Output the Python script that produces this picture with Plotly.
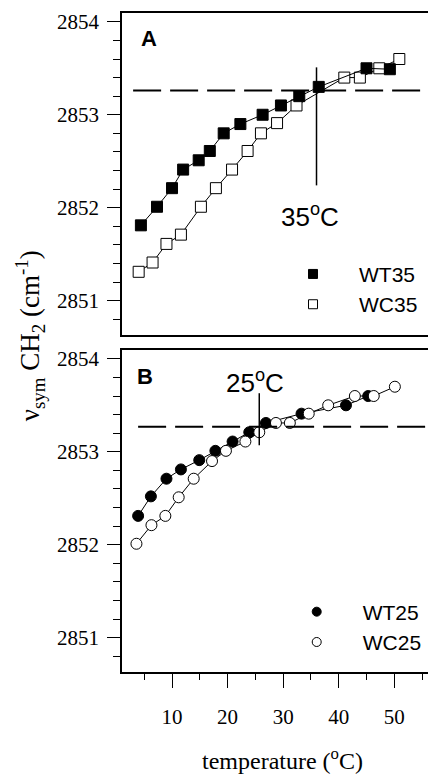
import plotly.graph_objects as go

# panel A (35 C transition)
wt35_temp = [4.4, 7.3, 10.0, 12.0, 14.8, 16.8, 19.3, 22.3, 26.3, 29.6, 32.9, 36.4, 45.0, 49.2]
wt35_freq = [2851.81, 2852.01, 2852.21, 2852.41, 2852.51, 2852.61, 2852.80, 2852.90, 2853.00,
             2853.10, 2853.20, 2853.30, 2853.50, 2853.49]
wc35_temp = [4.0, 6.5, 9.0, 11.6, 15.2, 17.9, 20.8, 23.6, 26.0, 28.9, 32.4, 41.0, 43.8, 47.3, 50.9]
wc35_freq = [2851.31, 2851.41, 2851.61, 2851.71, 2852.01, 2852.21, 2852.41, 2852.61, 2852.80,
             2852.91, 2853.10, 2853.40, 2853.40, 2853.50, 2853.60]

# panel B (25 C transition)
wt25_temp = [3.9, 6.2, 9.0, 11.6, 14.9, 17.8, 20.9, 23.9, 26.9, 33.3, 41.3, 45.3]
wt25_freq = [2852.31, 2852.52, 2852.71, 2852.81, 2852.91, 2853.01, 2853.11, 2853.21, 2853.31,
             2853.41, 2853.50, 2853.60]
wc25_temp = [3.6, 6.3, 8.8, 11.2, 13.9, 17.2, 19.7, 23.2, 25.7, 28.7, 31.2, 34.6, 38.1, 42.9, 46.3, 50.1]
wc25_freq = [2852.01, 2852.21, 2852.31, 2852.51, 2852.71, 2852.90, 2853.01, 2853.11, 2853.21,
             2853.31, 2853.31, 2853.41, 2853.50, 2853.60, 2853.60, 2853.70]

plateau_a = 2853.26
plateau_b = 2853.27
trans_a = [36.0, 2852.24, 2853.51]   # x, y0, y1 of marker line
trans_b = [25.7, 2853.07, 2853.63]
x_ticks = [10, 20, 30, 40, 50]
y_ticks = [2851, 2852, 2853, 2854]

serif = "Liberation Serif, Times New Roman, serif"
sans = "Liberation Sans, Arial, sans-serif"
X_RANGE = [1, 57.5]
Y_RANGE = [2850.63, 2854.095]

fig = go.Figure()


def add_panel(temp, freq, name, symbol, fill, xa, ya, legend):
    fig.add_scatter(x=temp, y=freq, mode='lines', xaxis=xa, yaxis=ya,
                    line=dict(color='black', width=1), showlegend=False, hoverinfo='skip')
    fig.add_scatter(x=temp, y=freq, mode='markers', xaxis=xa, yaxis=ya, showlegend=False,
                    marker=dict(symbol=symbol, size=11, color=fill,
                                line=dict(color='black', width=1)))
    # legend entry only
    fig.add_scatter(x=[None], y=[None], mode='markers', xaxis=xa, yaxis=ya, name=name,
                    legend=legend,
                    marker=dict(symbol=symbol, size=9, color=fill,
                                line=dict(color='black', width=1)))


add_panel(wc35_temp, wc35_freq, 'WC35', 'square', 'white', 'x2', 'y2', 'legend')
add_panel(wt35_temp, wt35_freq, 'WT35', 'square', 'black', 'x2', 'y2', 'legend')
add_panel(wt25_temp, wt25_freq, 'WT25', 'circle', 'black', 'x', 'y', 'legend2')
add_panel(wc25_temp, wc25_freq, 'WC25', 'circle', 'white', 'x', 'y', 'legend2')

axis_common = dict(showline=True, linecolor='black', linewidth=1.5, showgrid=False,
                   zeroline=False, range=X_RANGE)
yaxis_common = dict(showline=True, linecolor='black', linewidth=1.5, showgrid=False,
                    zeroline=False, range=Y_RANGE, tickvals=y_ticks, ticks='outside',
                    ticklen=13, tickwidth=1.2, tickcolor='black', ticklabelstandoff=4,
                    tickfont=dict(family=serif, size=21, color='black'),
                    minor=dict(dtick=0.2, tick0=2850, ticks='outside', ticklen=7,
                               tickwidth=1.2, tickcolor='black'))

# page body has an 8px margin, so the figure is drawn 8px smaller
fig.update_layout(
    template='none',
    font=dict(family=serif, size=21, color='black'),
    width=428, height=769,
    margin=dict(l=114, r=0, t=5, b=105),
    plot_bgcolor='white', paper_bgcolor='white',
    xaxis=dict(axis_common, anchor='y', domain=[0, 1], mirror=True,
               tickvals=x_ticks, ticks='outside', ticklen=14, tickwidth=1.2,
               tickcolor='black', ticklabelstandoff=11,
               tickfont=dict(family=serif, size=21, color='black'),
               minor=dict(dtick=5, tick0=0, ticks='outside', ticklen=6,
                          tickwidth=1.2, tickcolor='black')),
    xaxis2=dict(axis_common, anchor='y2', mirror=True, showticklabels=False, ticks=''),
    yaxis=dict(yaxis_common, domain=[0, 0.4886], anchor='x'),
    yaxis2=dict(yaxis_common, domain=[0.5114, 1], anchor='x2'),
    legend=dict(x=0.4618, y=0.6346, xanchor='left', yanchor='top', itemwidth=82,
                traceorder='reversed', bgcolor='rgba(0,0,0,0)', borderwidth=0,
                font=dict(family=sans, size=21, color='black')),
    legend2=dict(x=0.4736, y=0.1221, xanchor='left', yanchor='top', itemwidth=82,
                 bgcolor='rgba(0,0,0,0)', borderwidth=0,
                 font=dict(family=sans, size=21, color='black')),
    shapes=[
        dict(type='line', xref='x2', yref='y2', x0=3, x1=X_RANGE[1], y0=plateau_a, y1=plateau_a,
             line=dict(color='black', width=2, dash='28px,9px')),
        dict(type='line', xref='x', yref='y', x0=3.9, x1=X_RANGE[1], y0=plateau_b, y1=plateau_b,
             line=dict(color='black', width=2, dash='28px,9px')),
        dict(type='line', xref='x2', yref='y2', x0=trans_a[0], x1=trans_a[0],
             y0=trans_a[1], y1=trans_a[2], line=dict(color='black', width=1.5)),
        dict(type='line', xref='x', yref='y', x0=trans_b[0], x1=trans_b[0],
             y0=trans_b[1], y1=trans_b[2], line=dict(color='black', width=1.5)),
    ],
    annotations=[
        dict(text='<b>A</b>', xref='x2 domain', yref='y2 domain', x=0.086, y=0.922,
             xanchor='center', yanchor='middle',
             showarrow=False, font=dict(family=sans, size=22, color='black')),
        dict(text='<b>B</b>', xref='x domain', yref='y domain', x=0.073, y=0.919,
             xanchor='center', yanchor='middle',
             showarrow=False, font=dict(family=sans, size=22, color='black')),
        dict(text='35<sup>o</sup>C', xref='x2', yref='y2', x=34.8, y=2851.92,
             showarrow=False, font=dict(family=sans, size=26, color='black')),
        dict(text='25<sup>o</sup>C', xref='x', yref='y', x=25.0, y=2853.76,
             showarrow=False, font=dict(family=sans, size=26, color='black')),
        dict(text='temperature (<sup>o</sup>C)', xref='paper', yref='paper', x=0.51, y=-0.132,
             xanchor='center', yanchor='middle',
             showarrow=False, font=dict(family=serif, size=24, color='black')),
        dict(text='ν<sub>sym</sub> CH<sub>2</sub> (cm<sup>-1</sup>)', xref='paper', yref='paper',
             x=-0.293, y=0.511, textangle=-90, showarrow=False,
             xanchor='center', yanchor='middle',
             font=dict(family=serif, size=27, color='black')),
    ],
)

fig.write_html("out.html")
